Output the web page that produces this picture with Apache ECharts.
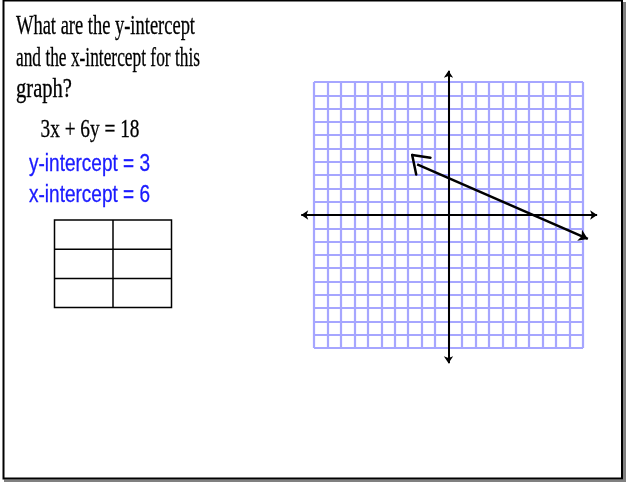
<!DOCTYPE html>
<html>
<head>
<meta charset="utf-8">
<script src="https://cdn.jsdelivr.net/npm/echarts@6/dist/echarts.min.js"></script>
<style>
    html, body { margin: 0; padding: 0; background: #fff; }
    #main { width: 626px; height: 482px; }
</style>
</head>
<body>
<div id="main"></div>
<script>
(function() {

    // graph paper range
    var xRange = [-10, 10];
    var yRange = [-10, 10];

    // the black axes run a bit past the paper
    var xAxisEnds = [[-10.95, 0], [11.05, 0]];
    var yAxisEnds = [[0, -11.15], [0, 10.85]];

    // hand drawn line for 3x + 6y = 18
    var lineStart = [-2.33, 3.80];
    var lineEnd = [10.36, -1.80];

    // hand drawn open arrow at the left end
    var arrowTip = [-2.70, 4.51];
    var arrowUpper = [-1.34, 4.31];
    var arrowLower = [-2.40, 3.05];

    // texts
    var questionLines = ['What are the y-intercept', 'and the x-intercept for this', 'graph?'];
    var equationText = '3x + 6y = 18';
    var answerLines = ['y-intercept = 3', 'x-intercept = 6'];

    // empty table
    var tableRows = 3;
    var tableCols = 2;


    var ctx = document.createElement('canvas').getContext('2d');

    // squeeze a line of text so it is as wide as in the picture
    function textItem(str, left, baseline, size, family, color, width) {
        var font = size + 'px "' + family + '"';
        ctx.font = font;
        var w = ctx.measureText(str).width;
        return {
            type: 'text',
            x: left,
            y: baseline - 0.34 * size,
            scaleX: width / w,
            silent: true,
            style: {
                text: str,
                x: 0,
                y: 0,
                font: font,
                fill: color,
                stroke: color,
                lineWidth: 0.3,
                verticalAlign: 'middle',
                align: 'left'
            }
        };
    }

    var graphics = [];

    // slide frame + shadow
    graphics.push({ type: 'rect', shape: { x: 623, y: 2, width: 3, height: 480 }, style: { fill: '#808080' }, silent: true });
    graphics.push({ type: 'rect', shape: { x: 4, y: 479.5, width: 622, height: 2.5 }, style: { fill: '#808080' }, silent: true });
    graphics.push({ type: 'rect', shape: { x: 3.5, y: 0.5, width: 618.5, height: 478 }, style: { fill: null, stroke: '#000', lineWidth: 2 }, silent: true });

    // question
    var qWidths = [179, 184, 56];
    var qBase = [36.5, 68, 99.5];
    for (var i = 0; i < questionLines.length; i++) {
        graphics.push(textItem(questionLines[i], 16, qBase[i], 27.5, 'Liberation Serif', '#000', qWidths[i]));
    }
    graphics.push(textItem(equationText, 40.5, 138.5, 25.5, 'Liberation Serif', '#000', 99));

    // answers
    var aBase = [172.5, 204];
    for (var j = 0; j < answerLines.length; j++) {
        graphics.push(textItem(answerLines[j], 29, aBase[j], 23.5, 'Liberation Sans', '#1a1aff', 121));
    }

    // table
    var tLeft = 54.5, tTop = 220, cellW = 58.5, cellH = 29.2;
    graphics.push({
        type: 'rect', silent: true,
        shape: { x: tLeft, y: tTop, width: cellW * tableCols, height: cellH * tableRows },
        style: { fill: null, stroke: '#000', lineWidth: 1.5 }
    });
    for (var c = 1; c < tableCols; c++) {
        graphics.push({
            type: 'line', silent: true,
            shape: { x1: tLeft + cellW * c, y1: tTop, x2: tLeft + cellW * c, y2: tTop + cellH * tableRows },
            style: { stroke: '#000', lineWidth: 1.5 }
        });
    }
    for (var r = 1; r < tableRows; r++) {
        graphics.push({
            type: 'line', silent: true,
            shape: { x1: tLeft, y1: tTop + cellH * r, x2: tLeft + cellW * tableCols, y2: tTop + cellH * r },
            style: { stroke: '#000', lineWidth: 1.5 }
        });
    }


    var paperAxis = function(range) {
        return {
            type: 'value',
            min: range[0],
            max: range[1],
            interval: 1,
            axisLine: { show: false },
            axisTick: { show: false },
            axisLabel: { show: false },
            splitLine: {
                show: true,
                lineStyle: { color: '#a6a6ff', width: 2.2 }
            }
        };
    };

    var myChart = echarts.init(document.getElementById('main'));
    myChart.setOption({
        animation: false,
        backgroundColor: '#fff',
        grid: { left: 314, top: 82, width: 269, height: 266 },
        xAxis: paperAxis(xRange),
        yAxis: paperAxis(yRange),
        graphic: graphics,
        series: [{
            name: 'axes',
            type: 'lines',
            coordinateSystem: 'cartesian2d',
            clip: false,
            silent: true,
            symbol: ['arrow', 'arrow'],
            symbolSize: 7,
            lineStyle: { color: '#000', width: 2, opacity: 1 },
            data: [{ coords: xAxisEnds }, { coords: yAxisEnds }]
        }, {
            name: 'line',
            type: 'lines',
            coordinateSystem: 'cartesian2d',
            clip: false,
            silent: true,
            symbol: ['none', 'arrow'],
            symbolSize: 9,
            lineStyle: { color: '#000', width: 2.5, opacity: 1 },
            data: [{ coords: [lineStart, lineEnd] }]
        }, {
            name: 'hand arrow',
            type: 'lines',
            coordinateSystem: 'cartesian2d',
            clip: false,
            silent: true,
            symbol: 'none',
            lineStyle: { color: '#000', width: 2.5, opacity: 1, cap: 'round' },
            data: [{ coords: [arrowTip, arrowUpper] }, { coords: [arrowTip, arrowLower] }]
        }]
    });

})();
</script>
</body>
</html>
